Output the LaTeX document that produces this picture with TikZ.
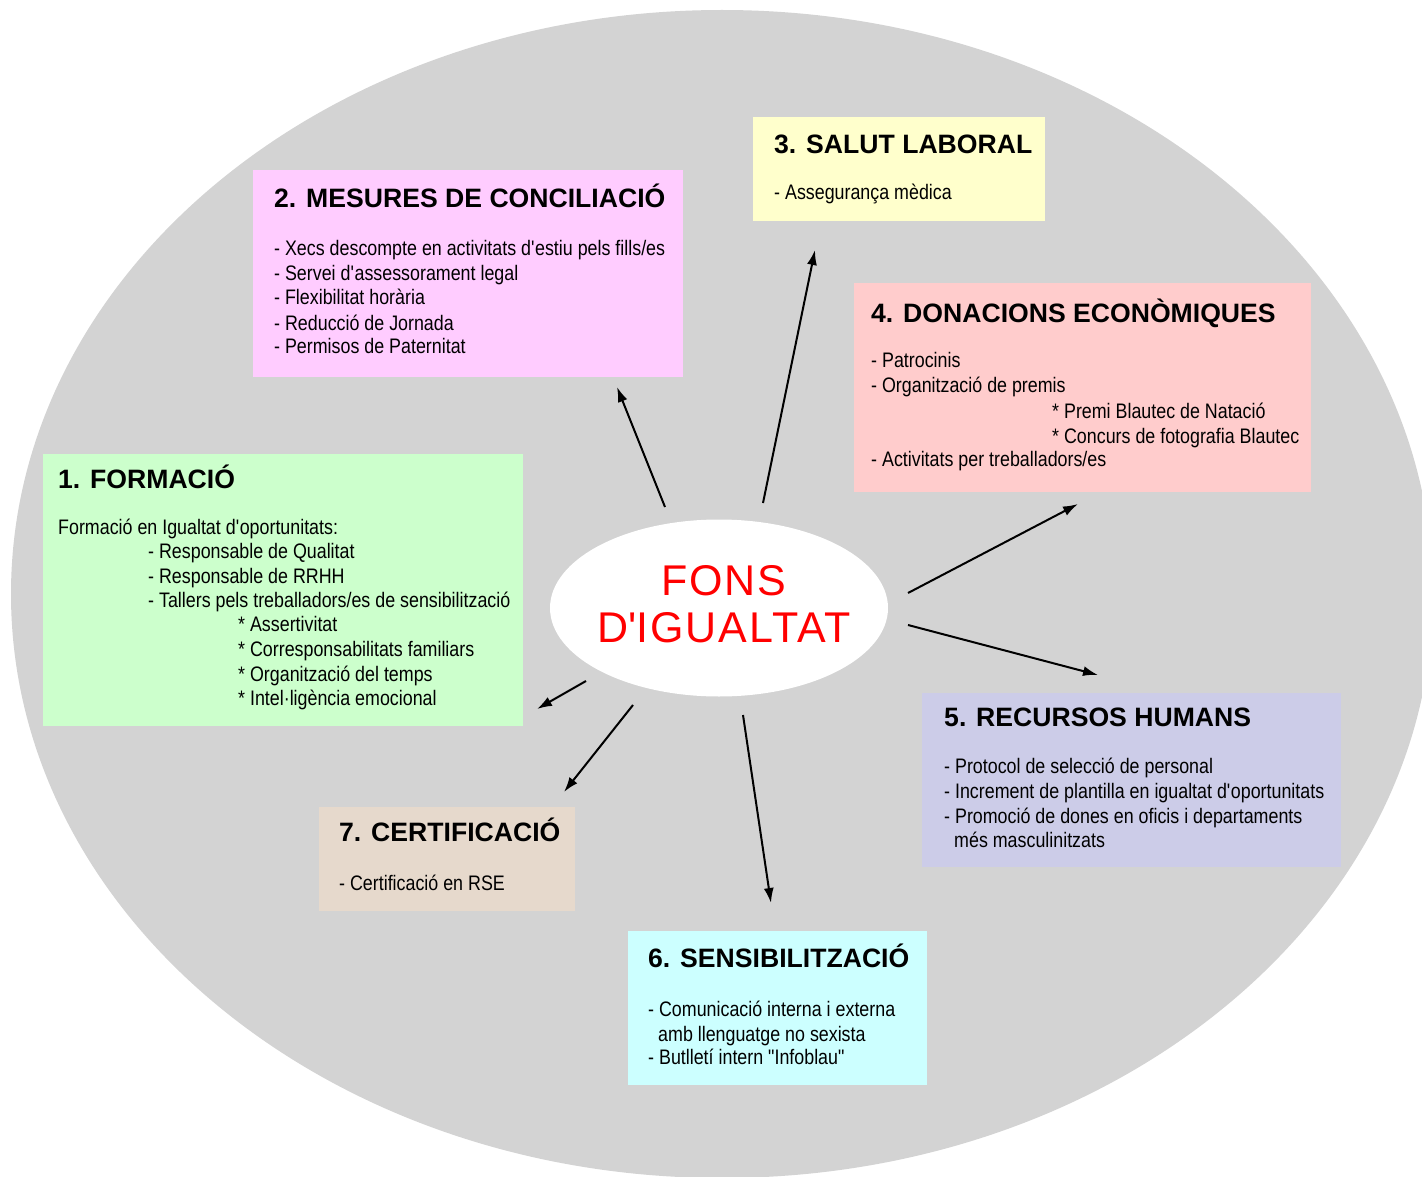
\documentclass[tikz,border=0pt]{standalone}
\usepackage{fontspec}
\setmainfont{Liberation Sans}
\newfontfamily\bodyfont[FakeStretch=0.85]{Liberation Sans}
\newfontfamily\fonsfont[LetterSpace=4.5]{Liberation Sans}
\usetikzlibrary{shapes.geometric,arrows.meta}
\definecolor{bggrey}{HTML}{D3D3D3}
\definecolor{cgreen}{HTML}{CCFFCC}
\definecolor{cpink}{HTML}{FFCCFF}
\definecolor{cyellow}{HTML}{FFFFCC}
\definecolor{csalmon}{HTML}{FFCCCC}
\definecolor{clav}{HTML}{CCCCE8}
\definecolor{cbeige}{HTML}{E6D9CC}
\definecolor{ccyan}{HTML}{CCFFFF}
\newcommand\aq{\textquotesingle}
\tikzset{
  box/.style={rectangle, draw=none, inner sep=0pt},
  ttl/.style={anchor=base west, inner sep=0pt, font=\bfseries\fontsize{26.6}{30}\selectfont},
  body/.style={anchor=base west, inner sep=0pt, font=\bodyfont\fontsize{21}{25}\selectfont},
  fonstxt/.style={anchor=base, inner sep=0pt, text=red, font=\fonsfont\fontsize{43}{48}\selectfont},
  arr/.style={line width=2pt, -{Latex[length=15pt,width=10pt]}}
}
\newcommand\bline[4]{\node[body] (#1) at (#2,#3) {#4};}
\begin{document}
\begin{tikzpicture}[x=1pt,y=-1pt]
\useasboundingbox (0,0) rectangle (1422,1177);
\fill[white] (0,0) rectangle (1422,1177);
\fill[bggrey] (722,594) ellipse [x radius=711, y radius=584];

% boxes
\node[box, fill=cpink, minimum width=430pt, minimum height=207pt] (b2) at (468,273.5) {};
\node[box, fill=cyellow, minimum width=292pt, minimum height=104pt] (b3) at (899,169) {};
\node[box, fill=csalmon, minimum width=457pt, minimum height=209pt] (b4) at (1082.5,387.5) {};
\node[box, fill=cgreen, minimum width=480pt, minimum height=272pt] (b1) at (283,590) {};
\node[box, fill=clav, minimum width=419pt, minimum height=174pt] (b5) at (1131.5,780) {};
\node[box, fill=cbeige, minimum width=256pt, minimum height=104pt] (b7) at (447,859) {};
\node[box, fill=ccyan, minimum width=299pt, minimum height=154pt] (b6) at (777.5,1008) {};

% centre
\node[ellipse, fill=white, draw=none, minimum width=338pt, minimum height=177pt] (fons) at (719,608) {};
\node[fonstxt] (fons1) at (724,595) {FONS};
\node[fonstxt] (fons2) at (724,642) {D\aq IGUALTAT};

% box 2
\node[ttl] (t2) at (274,208) {2. MESURES DE CONCILIACIÓ};
\bline{b2a}{274}{255}{- Xecs descompte en activitats d\aq estiu pels fills/es}
\bline{b2b}{274}{280}{- Servei d\aq assessorament legal}
\bline{b2c}{274}{305}{- Flexibilitat horària}
\bline{b2d}{274}{330}{- Reducció de Jornada}
\bline{b2e}{274}{353}{- Permisos de Paternitat}

% box 3
\node[ttl] (t3) at (774,154) {3. SALUT LABORAL};
\bline{b3a}{774}{200}{- Assegurança mèdica}

% box 4
\node[ttl] (t4) at (871,322) {4. DONACIONS ECONÒMIQUES};
\bline{b4a}{871}{367}{- Patrocinis}
\bline{b4b}{871}{392}{- Organització de premis}
\bline{b4c}{1052}{418}{* Premi Blautec de Natació}
\bline{b4d}{1052}{443}{* Concurs de fotografia Blautec}
\bline{b4e}{871}{466}{- Activitats per treballadors/es}

% box 1
\node[ttl] (t1) at (58,488) {1. FORMACIÓ};
\bline{b1a}{58}{534}{Formació en Igualtat d\aq oportunitats:}
\bline{b1b}{148}{558}{- Responsable de Qualitat}
\bline{b1c}{148}{583}{- Responsable de RRHH}
\bline{b1d}{148}{607}{- Tallers pels treballadors/es de sensibilització}
\bline{b1e}{238}{631}{* Assertivitat}
\bline{b1f}{238}{656}{* Corresponsabilitats familiars}
\bline{b1g}{238}{681}{* Organització del temps}
\bline{b1h}{238}{705}{* Intel·ligència emocional}

% box 5
\node[ttl] (t5) at (944,726) {5. RECURSOS HUMANS};
\bline{b5a}{944}{773}{- Protocol de selecció de personal}
\bline{b5b}{944}{798}{- Increment de plantilla en igualtat d\aq oportunitats}
\bline{b5c}{944}{823}{- Promoció de dones en oficis i departaments}
\bline{b5d}{954}{847}{més masculinitzats}

% box 7
\node[ttl] (t7) at (339,841) {7. CERTIFICACIÓ};
\bline{b7a}{339}{890}{- Certificació en RSE}

% box 6
\node[ttl] (t6) at (648,967) {6. SENSIBILITZACIÓ};
\bline{b6a}{648}{1016}{- Comunicació interna i externa}
\bline{b6b}{658}{1041}{amb llenguatge no sexista}
\bline{b6c}{648}{1064}{- Butlletí intern "Infoblau"}

% arrow end points
\coordinate (s2) at (665,507); \coordinate (e2) at (617,387);
\coordinate (s3) at (763,503); \coordinate (e3) at (815,250);
\coordinate (s4) at (908,593); \coordinate (e4) at (1078,504);
\coordinate (s5) at (908,625); \coordinate (e5) at (1098,675);
\coordinate (s6) at (743,715); \coordinate (e6) at (771,903);
\coordinate (s7) at (633,705); \coordinate (e7) at (564,792);
\coordinate (s1) at (586,681); \coordinate (e1) at (537,709);

\draw[arr] (s2) -- (e2);
\draw[arr] (s3) -- (e3);
\draw[arr] (s4) -- (e4);
\draw[arr] (s5) -- (e5);
\draw[arr] (s6) -- (e6);
\draw[arr] (s7) -- (e7);
\draw[arr] (s1) -- (e1);
\end{tikzpicture}
\end{document}
